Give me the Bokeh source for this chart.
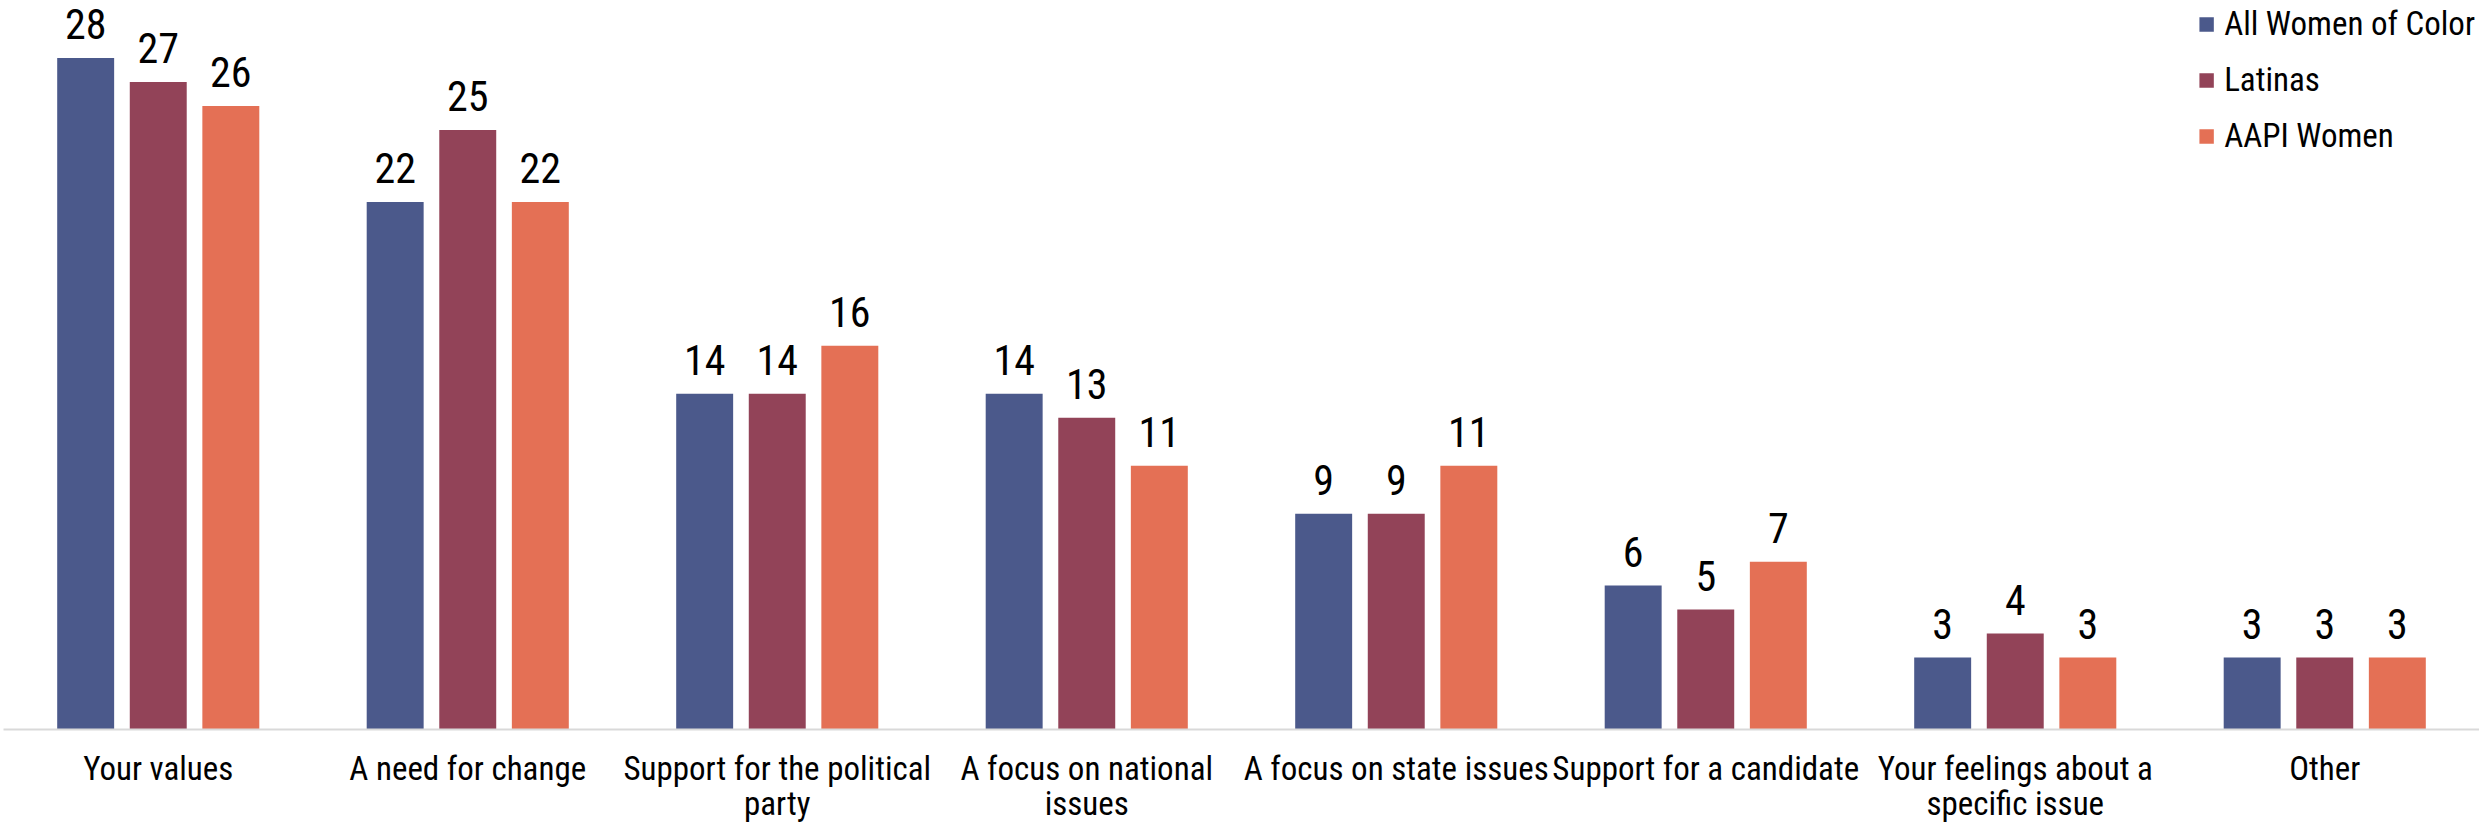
from bokeh.plotting import figure
from bokeh.models import ColumnDataSource, Range1d, FactorRange, Legend, LegendItem, LabelSet
from bokeh.transform import dodge
from bokeh.core.properties import value
from bokeh.embed import file_html
from bokeh.resources import INLINE

categories = ["Your values", "A need for change", "Support for the political\nparty",
              "A focus on national\nissues", "A focus on state issues",
              "Support for a candidate", "Your feelings about a\nspecific issue", "Other"]
series_names = ["All Women of Color", "Latinas", "AAPI Women"]
all_woc = [28, 22, 14, 14, 9, 6, 3, 3]
latinas = [27, 25, 14, 13, 9, 5, 4, 3]
aapi = [26, 22, 16, 11, 11, 7, 3, 3]
colors = ["#4B598B", "#924358", "#E47055"]

FONT = "Roboto Condensed"

src = ColumnDataSource(dict(
    cat=categories,
    s0=all_woc, s1=latinas, s2=aapi,
    t0=[str(v) for v in all_woc], t1=[str(v) for v in latinas], t2=[str(v) for v in aapi],
))

p = figure(width=2479, height=828, x_range=FactorRange(*categories), y_range=Range1d(0, 30.4),
           output_backend="svg", toolbar_location=None)
p.min_border_left = 3
p.min_border_right = 0
p.min_border_top = 0
p.min_border_bottom = 99
p.outline_line_color = None
p.xgrid.visible = False
p.ygrid.visible = False
p.yaxis.visible = False
p.background_fill_color = "white"
p.border_fill_color = "white"

offsets = [-0.2345, 0.0, 0.2345]
items = []
for i, off in enumerate(offsets):
    r = p.vbar(x=dodge("cat", off, range=p.x_range), top="s%d" % i, width=0.184,
               bottom=0, source=src, fill_color=colors[i], line_color=None)
    labels = LabelSet(x=dodge("cat", off, range=p.x_range), y="s%d" % i, text="t%d" % i,
                      source=src, text_align="center", text_baseline="alphabetic",
                      y_offset=19, text_font=value(FONT), text_font_size=value("42px"),
                      text_color=value("#000000"))
    p.add_layout(labels)
    items.append(LegendItem(label=series_names[i], renderers=[r]))

ax = p.xaxis[0]
ax.axis_line_color = "#D9D9D9"
ax.axis_line_width = 2
ax.major_tick_line_color = None
ax.minor_tick_line_color = None
ax.major_label_text_font = FONT
ax.major_label_text_font_size = "33px"
ax.major_label_text_color = "#000000"
ax.major_label_text_line_height = 0.92
ax.major_label_standoff = 13

legend = Legend(items=items, location="top_right", orientation="vertical")
legend.label_text_font = FONT
legend.label_text_font_size = "33px"
legend.label_text_color = "#000000"
legend.glyph_width = 18
legend.glyph_height = 18
legend.label_standoff = 9
legend.label_width = 249
legend.spacing = 17
legend.padding = 5
legend.margin = 4
legend.border_line_color = None
legend.background_fill_alpha = 0
p.add_layout(legend)

open("out.html", "w").write(file_html(p, INLINE))
